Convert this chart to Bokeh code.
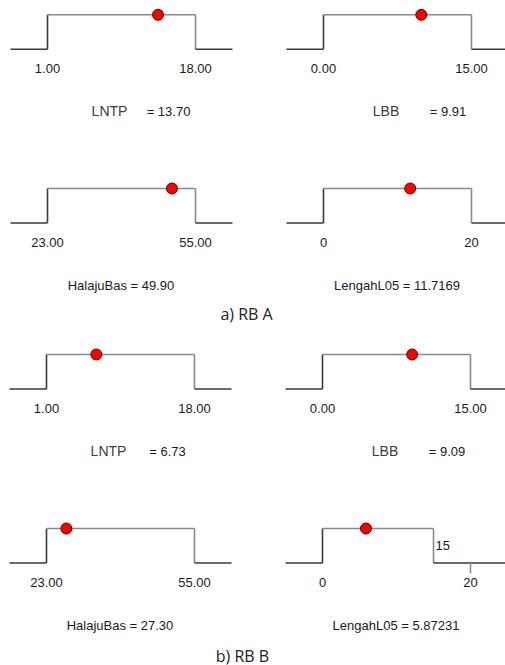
from bokeh.plotting import figure
from bokeh.models import Range1d, ColumnDataSource
from bokeh.core.properties import value
from bokeh.embed import file_html
from bokeh.resources import INLINE

# ---------------- data ----------------
variables = ["LNTP", "LBB", "HalajuBas", "LengahL05"]
axis_lo = [1, 0, 23, 0]
axis_hi = [18, 15, 55, 20]
axis_lo_text = ["1.00", "0.00", "23.00", "0"]
axis_hi_text = ["18.00", "15.00", "55.00", "20"]

scenarios = ["a) RB A", "b) RB B"]
state_lo = [[1, 0, 23, 0], [1, 0, 23, 0]]
state_hi = [[18, 15, 55, 20], [18, 15, 55, 15]]
values = [[13.70, 9.91, 49.90, 11.7169], [6.73, 9.09, 27.30, 5.87231]]
value_text = [["13.70", "9.91", "49.90", "11.7169"], ["6.73", "9.09", "27.30", "5.87231"]]
split_name = [True, True, False, False]   # name drawn apart from "= value"

# ---------------- layout (picture pixels) ----------------
W, H = 505, 665
SPAN = 148
col_lo_x = [47, 323]
sec_dx = [0, -1]
row_top = [[14.3, 188], [354, 528]]
STEP_H = 34.5
title_pos = [(246, 313), (242, 655)]

FONT = value("Liberation Sans")
DARK = "#3a3a3a"
LIGHT = "#8a8a8a"

p = figure(width=W, height=H, output_backend="svg", toolbar_location=None,
           x_range=Range1d(0, W), y_range=Range1d(H, 0), min_border=0)
p.axis.visible = False
p.grid.visible = False
p.outline_line_color = None

for s in range(2):
    for v in range(4):
        r, c = divmod(v, 2)
        lo, hi = axis_lo[v], axis_hi[v]
        x_lo_local = col_lo_x[c] + sec_dx[s]
        k = SPAN / (hi - lo)
        xs0 = lo - x_lo_local / k
        xname = f"x{s}{v}"
        p.extra_x_ranges[xname] = Range1d(xs0, xs0 + W / k)

        top = row_top[s][r]
        base = top + STEP_H
        ky = base - top
        ys0 = (base - H) / ky
        yname = f"y{s}{v}"
        p.extra_y_ranges[yname] = Range1d(ys0, ys0 + H / ky)

        pad = 0.25 * (hi - lo)
        slo, shi = state_lo[s][v], state_hi[s][v]
        seg = ColumnDataSource(dict(
            x0=[lo - pad, slo, slo, shi, shi],
            y0=[0, 0, 1, 1, 0],
            x1=[slo, slo, shi, shi, hi + pad],
            y1=[0, 1, 1, 0, 0],
            color=[DARK, DARK, LIGHT, LIGHT, DARK],
        ))
        p.segment(x0="x0", y0="y0", x1="x1", y1="y1", color="color", line_width=1.6,
                  source=seg, x_range_name=xname, y_range_name=yname)

        if shi != hi:
            p.segment(x0=[hi], y0=[0], x1=[hi], y1=[-0.3], color=LIGHT, line_width=1.6,
                      x_range_name=xname, y_range_name=yname)
            p.text(x=[shi], y=[0.5], text=[str(shi)], x_offset=2, text_align="left",
                   text_baseline="middle", text_font=FONT, text_font_size="13px",
                   text_color="#1a1a1a", x_range_name=xname, y_range_name=yname)

        p.scatter(x=[values[s][v]], y=[1], size=11, fill_color="#ff0000",
                  line_color="#600000", line_width=1,
                  x_range_name=xname, y_range_name=yname)

        # tick labels
        p.text(x=[lo, hi], y=[base + 19.5, base + 19.5], text=[axis_lo_text[v], axis_hi_text[v]],
               text_align="center", text_baseline="middle", text_font=FONT,
               text_font_size="13px", text_color="#1a1a1a", x_range_name=xname)

        # name / value labels
        ny = base + 62
        if split_name[v]:
            name_off = 62 if c == 0 else 62.5
            val_off = 121 if c == 0 else 124.5
            p.text(x=[x_lo_local + name_off], y=[ny], text=[variables[v]],
                   text_align="center", text_baseline="middle", text_font=FONT,
                   text_font_size="14px", text_color="#3c3c3c")
            p.text(x=[x_lo_local + val_off], y=[ny], text=["= " + value_text[s][v]],
                   text_align="center", text_baseline="middle", text_font=FONT,
                   text_font_size="13px", text_color="#1a1a1a")
        else:
            p.text(x=[x_lo_local + 73.5], y=[ny], text=[variables[v] + " = " + value_text[s][v]],
                   text_align="center", text_baseline="middle", text_font=FONT,
                   text_font_size="13px", text_color="#1a1a1a")

    tx, ty = title_pos[s]
    p.text(x=[tx], y=[ty], text=[scenarios[s]], text_align="center",
           text_baseline="middle", text_font=value("Open Sans"), text_font_size="16px",
           text_color="#222222")

open("out.html", "w").write(file_html(p, INLINE))
